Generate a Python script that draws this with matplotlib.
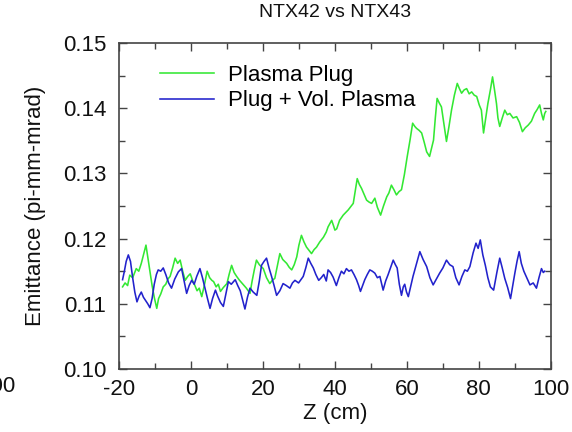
import numpy as np
import matplotlib.pyplot as plt
from matplotlib.ticker import MultipleLocator

plt.rcParams['font.family'] = ['Liberation Sans', 'DejaVu Sans']
plt.rcParams['axes.unicode_minus'] = False

# Plasma Plug (green)
plug_z = [-19.0, -18.3, -17.6, -17.0, -16.2, -15.2, -14.5, -13.8, -13.2, -12.5, -12.0, -11.4,
          -10.8, -10.2, -9.5, -9.0, -8.4, -7.7, -7.0, -6.4, -5.8, -5.1, -4.4, -3.7, -3.0, -2.3,
          -1.6, -0.9, -0.2, 0.5, 1.1, 1.7, 2.3, 3.0, 3.7, 4.5, 5.2, 5.8, 6.3, 7.0, 7.6, 8.2,
          9.0, 10.0, 10.6, 11.3, 12.0, 12.7, 13.5, 14.6, 15.4, 16.4, 17.0, 17.6, 18.2, 19.0,
          20.1, 21.0, 21.9, 22.6, 23.3, 24.0, 24.7, 25.5, 26.6, 27.3, 28.0, 28.7, 29.4, 30.0,
          30.7, 31.4, 32.1, 32.8, 33.5, 34.2, 34.9, 35.8, 36.8, 37.6, 38.1, 38.6, 39.1, 39.6,
          40.0, 40.5, 41.3, 42.3, 43.0, 43.7, 44.4, 45.1, 45.7, 46.2, 46.8, 47.4, 48.1, 48.8,
          49.5, 50.2, 51.1, 51.8, 52.7, 53.5, 54.4, 55.0, 55.7, 56.4, 57.1, 57.8, 58.5, 59.3,
          60.1, 60.9, 61.6, 62.2, 62.7, 63.4, 64.1, 64.8, 65.5, 66.3, 66.9, 67.4, 67.9, 68.4,
          69.0, 69.6, 70.3, 71.0, 71.7, 72.4, 73.2, 74.0, 74.6, 75.2, 75.9, 76.6, 77.3, 78.0,
          78.7, 79.4, 80.1, 80.7, 81.3, 81.9, 82.5, 83.2, 83.8, 84.3, 84.9, 85.3, 85.8, 86.5,
          87.2, 87.9, 88.6, 89.5, 90.5, 91.3, 92.1, 92.9, 93.7, 94.6, 95.5, 96.2, 96.9, 97.4,
          97.9, 98.3, 98.6]
plug_em = [0.1126, 0.1132, 0.1128, 0.1144, 0.1140, 0.1154, 0.1150, 0.1162, 0.1175, 0.1190,
           0.1172, 0.1150, 0.1128, 0.1110, 0.1093, 0.1108, 0.1115, 0.1126, 0.1130, 0.1138,
           0.1142, 0.1155, 0.1170, 0.1162, 0.1167, 0.1150, 0.1136, 0.1142, 0.1146, 0.1135,
           0.1128, 0.1120, 0.1124, 0.1111, 0.1128, 0.1150, 0.1140, 0.1136, 0.1134, 0.1126,
           0.1130, 0.1119, 0.1125, 0.1131, 0.1145, 0.1159, 0.1148, 0.1142, 0.1136, 0.1129,
           0.1124, 0.1116, 0.1135, 0.1152, 0.1167, 0.1160, 0.1154, 0.1140, 0.1131, 0.1136,
           0.1139, 0.1158, 0.1177, 0.1168, 0.1162, 0.1156, 0.1152, 0.1160, 0.1172, 0.1190,
           0.1205, 0.1195, 0.1187, 0.1182, 0.1177, 0.1183, 0.1187, 0.1195, 0.1202, 0.1210,
           0.1218, 0.1223, 0.1228, 0.1220, 0.1213, 0.1215, 0.1228, 0.1236, 0.1240, 0.1244,
           0.1249, 0.1254, 0.1275, 0.1292, 0.1283, 0.1277, 0.1268, 0.1259, 0.1256, 0.1254,
           0.1262, 0.1248, 0.1236, 0.1250, 0.1264, 0.1270, 0.1282, 0.1275, 0.1267, 0.1272,
           0.1275, 0.1298, 0.1326, 0.1352, 0.1377, 0.1372, 0.1369, 0.1366, 0.1362, 0.1348,
           0.1333, 0.1326, 0.1340, 0.1351, 0.1385, 0.1415, 0.1408, 0.1402, 0.1375, 0.1349,
           0.1372, 0.1397, 0.1420, 0.1438, 0.1430, 0.1423, 0.1428, 0.1430, 0.1422, 0.1425,
           0.1420, 0.1418, 0.1405, 0.1397, 0.1362, 0.1385, 0.1407, 0.1428, 0.1448, 0.1430,
           0.1407, 0.1385, 0.1372, 0.1385, 0.1397, 0.1390, 0.1392, 0.1385, 0.1387, 0.1378,
           0.1364, 0.1370, 0.1374, 0.1380, 0.1392, 0.1398, 0.1405, 0.1392, 0.1382, 0.1392,
           0.1395]

# Plug + Vol. Plasma (blue)
vol_z = [-19.0, -18.5, -18.0, -17.4, -16.8, -16.2, -15.6, -15.0, -14.4, -13.8, -13.2, -12.6,
         -12.0, -11.4, -10.8, -10.2, -9.6, -9.1, -8.4, -7.7, -7.0, -6.2, -5.4, -4.5, -3.5, -2.6,
         -1.9, -1.2, -0.5, 0.2, 0.9, 1.6, 2.5, 3.2, 3.9, 4.6, 5.3, 6.0, 6.8, 7.4, 8.2, 9.0,
         9.7, 10.4, 11.2, 12.3, 13.0, 13.7, 14.4, 15.0, 15.7, 16.4, 17.3, 18.3, 19.0, 19.6,
         20.3, 21.0, 21.7, 22.4, 23.1, 23.8, 24.7, 25.6, 26.5, 27.5, 28.2, 28.9, 29.9, 31.2,
         31.9, 32.6, 33.3, 34.0, 34.7, 35.5, 36.2, 36.9, 37.6, 38.1, 38.8, 39.5, 40.4, 41.1,
         41.8, 42.5, 43.2, 43.9, 44.6, 45.3, 46.0, 46.6, 47.1, 47.7, 48.3, 49.0, 49.7, 50.4,
         51.1, 51.8, 52.5, 53.0, 53.4, 54.1, 54.8, 55.5, 56.2, 56.8, 57.3, 57.9, 58.5, 59.0,
         59.4, 59.9, 60.4, 61.0, 61.7, 62.6, 63.6, 64.5, 65.5, 66.4, 67.3, 68.2, 69.1, 70.0,
         71.0, 71.9, 72.8, 73.6, 74.5, 75.3, 76.1, 76.8, 77.5, 78.4, 79.2, 79.8, 80.4, 81.1,
         81.8, 82.5, 83.2, 84.1, 85.0, 85.8, 86.5, 87.2, 88.0, 88.8, 89.4, 90.0, 90.6, 91.2,
         91.8, 92.5, 93.3, 94.2, 95.1, 96.0, 96.7, 97.4, 97.9, 98.3]
vol_em = [0.1137, 0.1150, 0.1165, 0.1175, 0.1165, 0.1140, 0.1118, 0.1103, 0.1112, 0.1118,
          0.1110, 0.1105, 0.1100, 0.1094, 0.1108, 0.1130, 0.1145, 0.1152, 0.1150, 0.1155,
          0.1145, 0.1132, 0.1124, 0.1138, 0.1149, 0.1154, 0.1135, 0.1116, 0.1128, 0.1136,
          0.1130, 0.1142, 0.1154, 0.1140, 0.1124, 0.1108, 0.1093, 0.1108, 0.1121, 0.1112,
          0.1102, 0.1096, 0.1115, 0.1134, 0.1130, 0.1137, 0.1128, 0.1120, 0.1105, 0.1092,
          0.1110, 0.1124, 0.1118, 0.1113, 0.1135, 0.1159, 0.1165, 0.1170, 0.1155, 0.1142,
          0.1128, 0.1113, 0.1120, 0.1131, 0.1128, 0.1124, 0.1132, 0.1136, 0.1132, 0.1142,
          0.1155, 0.1170, 0.1162, 0.1155, 0.1145, 0.1136, 0.1140, 0.1145, 0.1135, 0.1152,
          0.1148, 0.1141, 0.1128, 0.1140, 0.1150, 0.1146, 0.1154, 0.1150, 0.1152, 0.1145,
          0.1137, 0.1128, 0.1119, 0.1128, 0.1137, 0.1145, 0.1152, 0.1150, 0.1147, 0.1140,
          0.1142, 0.1130, 0.1121, 0.1135, 0.1145, 0.1156, 0.1167, 0.1160, 0.1155, 0.1130,
          0.1113, 0.1126, 0.1130, 0.1118, 0.1111, 0.1125, 0.1142, 0.1160, 0.1180, 0.1168,
          0.1157, 0.1140, 0.1129, 0.1138, 0.1147, 0.1155, 0.1167, 0.1160, 0.1157, 0.1140,
          0.1129, 0.1142, 0.1152, 0.1150, 0.1157, 0.1178, 0.1193, 0.1185, 0.1198, 0.1175,
          0.1159, 0.1140, 0.1126, 0.1121, 0.1148, 0.1170, 0.1155, 0.1139, 0.1125, 0.1108,
          0.1128, 0.1147, 0.1165, 0.1180, 0.1162, 0.1150, 0.1140, 0.1129, 0.1132, 0.1124,
          0.1140, 0.1154, 0.1148, 0.1150]

fig = plt.figure(figsize=(5.72, 4.32), dpi=100)
ax = fig.add_axes([0.208, 0.1458, 0.755, 0.7547])

ax.plot(plug_z, plug_em, color='#33e833', lw=1.15, label='Plasma Plug')
ax.plot(vol_z, vol_em, color='#2222cc', lw=1.15, label='Plug + Vol. Plasma')

ax.set_xlim(-20, 100)
ax.set_ylim(0.10, 0.15)
ax.xaxis.set_major_locator(MultipleLocator(20))
ax.xaxis.set_minor_locator(MultipleLocator(10))
ax.yaxis.set_major_locator(MultipleLocator(0.01))
ax.yaxis.set_minor_locator(MultipleLocator(0.005))
ax.yaxis.set_major_formatter(plt.FormatStrFormatter('%.2f'))

ax.tick_params(which='both', direction='in', top=True, right=True,
               color='#444444', labelsize=16, labelcolor='#111111')
ax.tick_params(which='major', length=6, width=1)
ax.tick_params(which='minor', length=4, width=1)
ax.tick_params(axis='x', pad=7)
ax.tick_params(axis='y', pad=9)
for sp in ax.spines.values():
    sp.set_color('#444444')
    sp.set_linewidth(1.2)

ax.set_xlabel('Z (cm)', fontsize=16, labelpad=2, color='#111111')
ax.set_ylabel('Emittance (pi-mm-mrad)', fontsize=16, labelpad=12, color='#111111')
fig.text(0.5857, 0.972, 'NTX42 vs NTX43', ha='center', va='center', fontsize=14,
         color='#111111')

# tick label of the neighbouring panel, clipped by the crop as in the source
fig.text(16 / 572, 1 - 386 / 432, '100', ha='right', va='center', fontsize=16,
         color='#111111')

ax.legend(loc='upper left', bbox_to_anchor=(0.095, 0.9325), frameon=False,
          fontsize=16, handlelength=2.45, handletextpad=0.6, labelspacing=0.2,
          borderpad=0, borderaxespad=0)

fig.savefig('out.png', dpi=100)
